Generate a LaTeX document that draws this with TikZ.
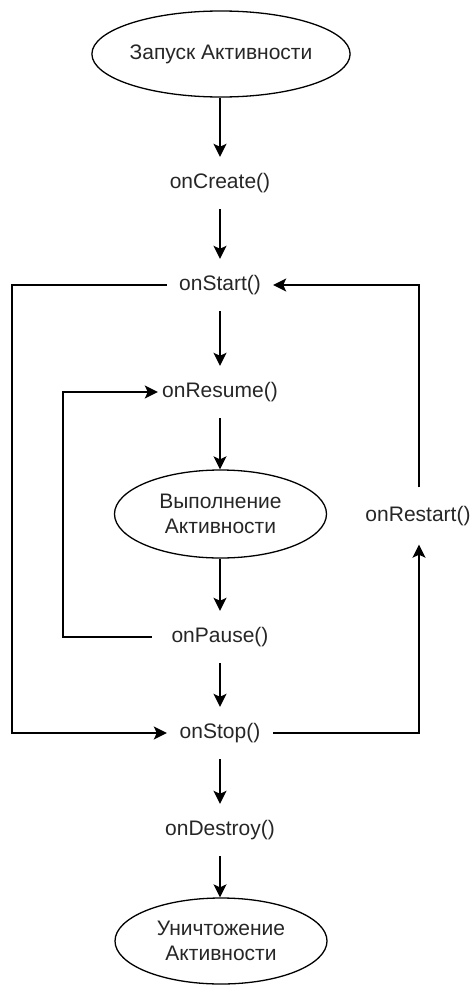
\documentclass[tikz,border=0pt]{standalone}
\usepackage{fontspec}
\setmainfont{Liberation Sans}
\usetikzlibrary{shapes.geometric,arrows.meta}
\begin{document}
\begin{tikzpicture}[x=1pt,y=-1pt,
  txt/.style={font=\fontsize{21}{25}\selectfont, text=black!85, inner sep=0pt, minimum height=52pt},
  ell/.style={ellipse, draw, line width=1.3pt, minimum width=212pt, minimum height=86pt, inner sep=0pt, align=center, font=\fontsize{21}{25}\selectfont, text=black!85},
  conn/.style={line width=1.8pt, -{Stealth[length=13pt,width=13pt,inset=3pt]}},
  plain/.style={line width=1.8pt}]
\useasboundingbox (0,0) rectangle (471,985);
\node[ell] (e1) at (221,54) {Запуск Активности};
\node[txt] (create) at (220,183) {onCreate()};
\node[txt, minimum width=106pt] (start) at (220,285) {onStart()};
\node[txt, minimum width=124pt] (resume) at (220,392) {onResume()};
\node[ell, minimum height=88pt] (e2) at (220.5,514) {Выполнение\\Активности};
\node[txt, minimum width=136pt] (pause) at (220,637) {onPause()};
\node[txt, minimum width=106pt] (stop) at (220,733) {onStop()};
\node[txt] (destroy) at (220,830) {onDestroy()};
\node[ell] (e3) at (221,941) {Уничтожение\\Активности};
\node[txt, minimum height=57pt] (restart) at (418,516) {onRestart()};
\coordinate (lt) at (12,285);
\coordinate (lb) at (12,733);
\coordinate (it) at (63,392);
\coordinate (ib) at (63,637);
\coordinate (rt) at (419,285);
\coordinate (rb) at (419,733);

\draw[conn] (e1.south -| create) -- (create.north);
\draw[conn] (create) -- (start);
\draw[conn] (start) -- (resume);
\draw[conn] (resume.south) -- (e2.north -| resume);
\draw[conn] (e2.south -| pause) -- (pause.north);
\draw[conn] (pause) -- (stop);
\draw[conn] (stop) -- (destroy);
\draw[conn] (destroy.south) -- (e3.north -| destroy);

\draw[conn] (start.west) -- (lt) -- (lb) -- (stop.west);
\draw[conn] (pause.west) -- (ib) -- (it) -- (resume.west);
\draw[conn] (stop.east) -- (rb) -- (restart.south -| rb);
\draw[conn] (restart.north -| rt) -- (rt) -- (start.east);
\end{tikzpicture}
\end{document}
